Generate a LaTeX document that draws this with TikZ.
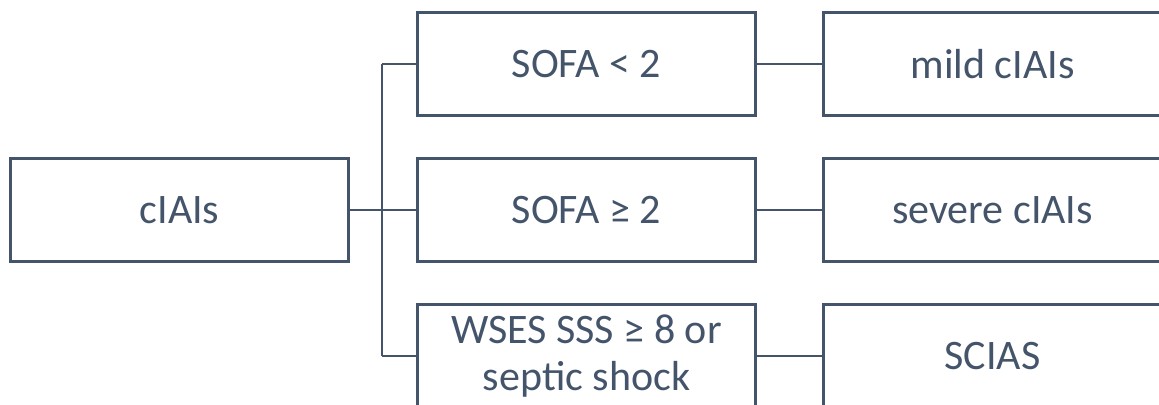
\documentclass[tikz,border=0pt]{standalone}
\usepackage{fontspec}
\setmainfont{Carlito}
\usepackage{tikz}

\definecolor{slate}{HTML}{44546A}

\begin{document}
\begin{tikzpicture}[
    x=0.5pt,y=-0.5pt,
    box/.style={rectangle,draw=slate,line width=1.5pt,text=slate,
      minimum width=169pt,minimum height=51.5pt,inner sep=2pt,
      align=center,font=\fontsize{21}{23.5}\selectfont},
    link/.style={draw=slate,line width=1pt}
  ]
    \useasboundingbox (0,0) rectangle (1159,405);

    % Root
    \node[box] (root) at (179.5,210) {cIAIs};

    % Criteria column
    \node[box] (sofalow) at (586.5,64) {SOFA < 2};
    \node[box] (sofahigh) at (586.5,210) {SOFA ≥ 2};
    \node[box] (wses) at (586.5,356) {WSES SSS ≥ 8 or\\septic shock};

    % Outcome column
    \node[box] (mild) at (992.5,64) {mild cIAIs};
    \node[box] (severe) at (992.5,210) {severe cIAIs};
    \node[box] (scias) at (992.5,356) {SCIAS};

    % Branching connectors
    \coordinate (split) at (382,210);
    \draw[link] (root.east) -- (sofahigh.west);
    \draw[link] (split |- sofalow.west) -- (split |- wses.west);
    \draw[link] (split |- sofalow.west) -- (sofalow.west);
    \draw[link] (split |- wses.west) -- (wses.west);

    % Criteria to outcome
    \draw[link] (sofalow.east) -- (mild.west);
    \draw[link] (sofahigh.east) -- (severe.west);
    \draw[link] (wses.east) -- (scias.west);

\end{tikzpicture}
\end{document}
